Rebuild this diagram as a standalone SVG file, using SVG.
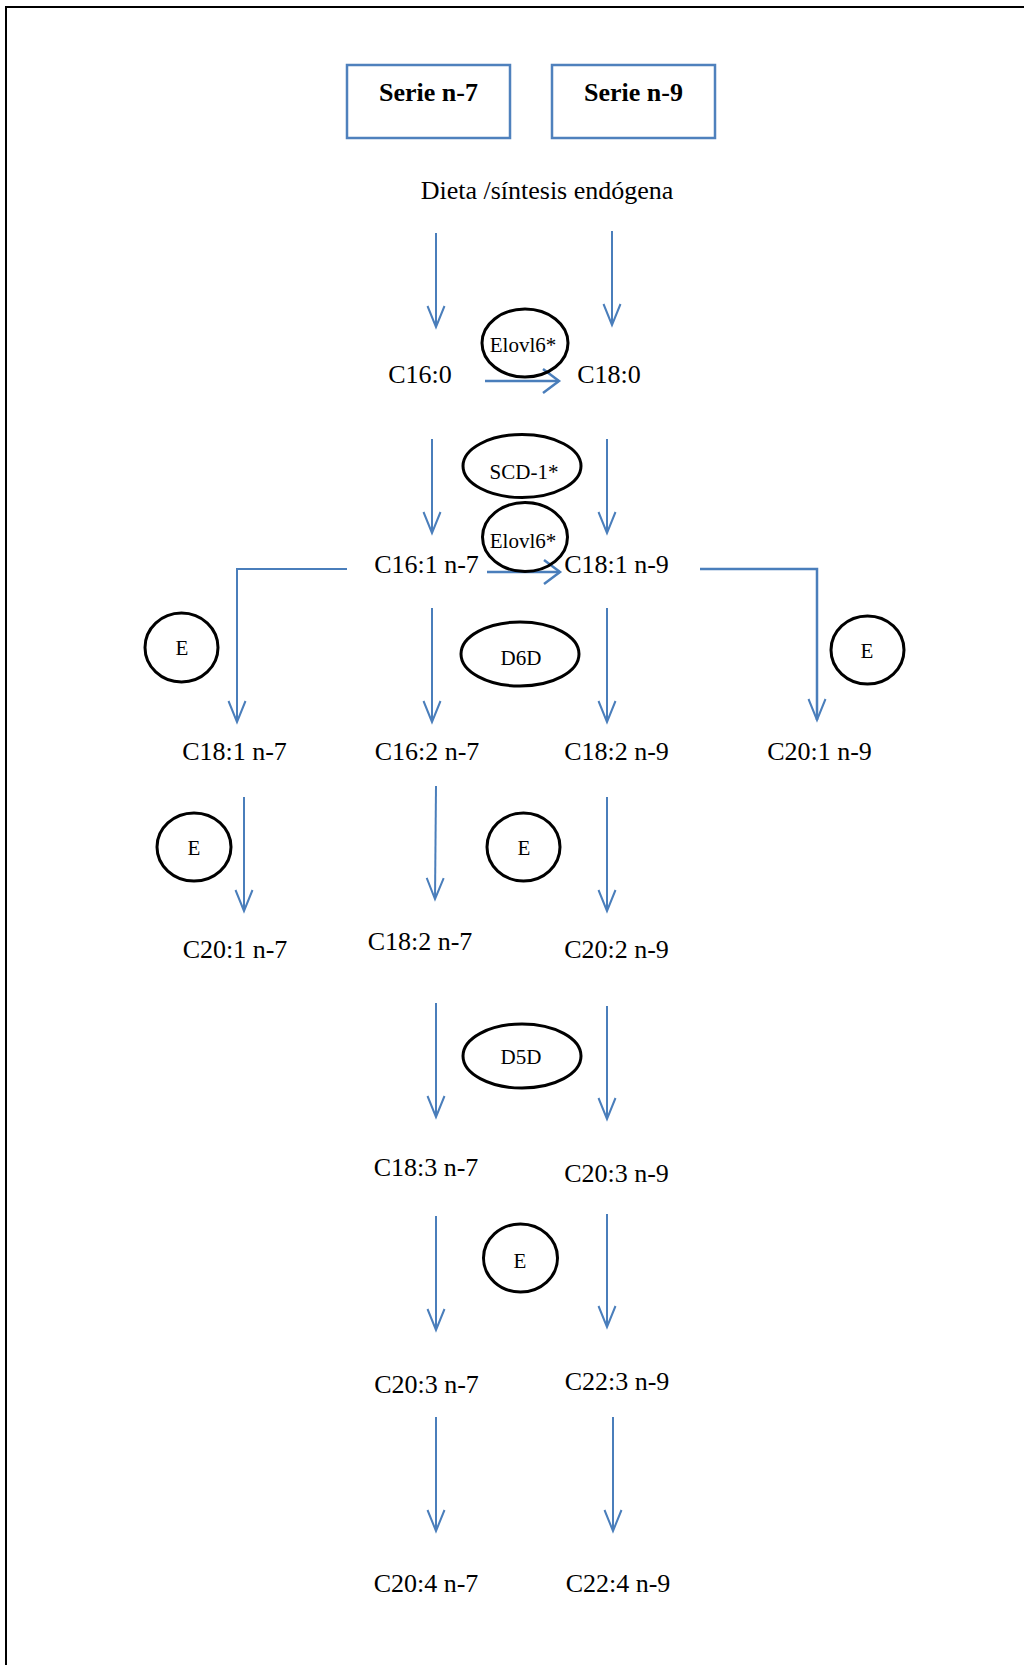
<svg xmlns="http://www.w3.org/2000/svg" width="1024" height="1665" viewBox="0 0 1024 1665">
<style>
.lbl{font-family:"Liberation Serif","Times New Roman",serif;font-size:26px;fill:#000;text-anchor:middle}
.hdr{font-family:"Liberation Serif","Times New Roman",serif;font-size:26px;font-weight:bold;fill:#000;text-anchor:middle}
.enz{font-family:"Liberation Serif","Times New Roman",serif;font-size:21px;fill:#000;text-anchor:middle}
.box{fill:#fff;stroke:#4F81BD;stroke-width:2.5}
.ell{fill:none;stroke:#000;stroke-width:3}
.con{fill:none;stroke:#4A7EBB;stroke-width:2;marker-end:url(#arr)}
.conh{fill:none;stroke:#4A7EBB;stroke-width:2.5;marker-end:url(#arrh)}
</style>
<defs>
<marker id="arr" viewBox="-24 -12 28 24" refX="0" refY="0" markerWidth="28" markerHeight="24" markerUnits="userSpaceOnUse" orient="auto">
<path d="M-21,-8.5 L0,0 L-21,8.5" fill="none" stroke="#4A7EBB" stroke-width="2"/>
</marker>
<marker id="arrh" viewBox="-24 -14 28 28" refX="0" refY="0" markerWidth="28" markerHeight="28" markerUnits="userSpaceOnUse" orient="auto">
<path d="M-16,-12 L0,0 L-16,12" fill="none" stroke="#4A7EBB" stroke-width="2.5"/>
</marker>
</defs>
<rect x="0" y="0" width="1024" height="1665" fill="#fff"/>
<g id="frame">
<path d="M6,1665 L6,7 L1024,7" fill="none" stroke="#000" stroke-width="2"/>
</g>
<g id="connectors">
<line class="con" x1="436" y1="233" x2="436" y2="327"/>
<line class="con" x1="612" y1="231" x2="612" y2="325"/>
<line class="conh" x1="485" y1="381" x2="559" y2="381"/>
<line class="con" x1="432" y1="439" x2="432" y2="533"/>
<line class="con" x1="607" y1="439" x2="607" y2="533"/>
<line class="conh" x1="487" y1="572" x2="560" y2="572"/>
<polyline class="con" points="347,569 237,569 237,722"/>
<polyline class="con" points="700,569 817,569 817,720" style="stroke-width:2.5"/>
<line class="con" x1="432" y1="608" x2="432" y2="722"/>
<line class="con" x1="607" y1="608" x2="607" y2="722"/>
<line class="con" x1="244" y1="797" x2="244" y2="911"/>
<line class="con" x1="436" y1="786" x2="435" y2="899"/>
<line class="con" x1="607" y1="797" x2="607" y2="911"/>
<line class="con" x1="436" y1="1003" x2="436" y2="1117"/>
<line class="con" x1="607" y1="1006" x2="607" y2="1119"/>
<line class="con" x1="436" y1="1216" x2="436" y2="1330"/>
<line class="con" x1="607" y1="1214" x2="607" y2="1327"/>
<line class="con" x1="436" y1="1417" x2="436" y2="1531"/>
<line class="con" x1="613" y1="1417" x2="613" y2="1531"/>
</g>
<g id="serie-n7"><rect class="box" x="347" y="65" width="163" height="73"/><text class="hdr" x="428.5" y="101">Serie n-7</text></g>
<g id="serie-n9"><rect class="box" x="552" y="65" width="163" height="73"/><text class="hdr" x="633.5" y="101">Serie n-9</text></g>
<g id="dieta"><text class="lbl" x="547" y="199">Dieta /síntesis endógena</text></g>
<g id="c16-0"><text class="lbl" x="420" y="383">C16:0</text></g>
<g id="c18-0"><text class="lbl" x="609" y="383">C18:0</text></g>
<g id="elovl6-1"><ellipse class="ell" cx="525" cy="343" rx="43" ry="34"/><text class="enz" x="523" y="352">Elovl6*</text></g>
<g id="scd1"><ellipse class="ell" cx="522" cy="466" rx="59" ry="31.5"/><text class="enz" x="524" y="479">SCD-1*</text></g>
<g id="elovl6-2"><ellipse class="ell" cx="525" cy="537" rx="42.5" ry="34.5"/><text class="enz" x="523" y="548">Elovl6*</text></g>
<g id="c16-1n7"><text class="lbl" x="426.5" y="573">C16:1 n-7</text></g>
<g id="c18-1n9"><text class="lbl" x="616.5" y="573">C18:1 n-9</text></g>
<g id="e-1"><ellipse class="ell" cx="181.5" cy="647.5" rx="36.5" ry="34.5"/><text class="enz" x="182" y="655">E</text></g>
<g id="d6d"><ellipse class="ell" cx="520" cy="654" rx="59" ry="32"/><text class="enz" x="521" y="665">D6D</text></g>
<g id="e-2"><ellipse class="ell" cx="867.5" cy="650" rx="36.5" ry="34"/><text class="enz" x="867" y="658">E</text></g>
<g id="c18-1n7"><text class="lbl" x="234.5" y="760">C18:1 n-7</text></g>
<g id="c16-2n7"><text class="lbl" x="427" y="760">C16:2 n-7</text></g>
<g id="c18-2n9"><text class="lbl" x="616.5" y="760">C18:2 n-9</text></g>
<g id="c20-1n9"><text class="lbl" x="819.5" y="760">C20:1 n-9</text></g>
<g id="e-3"><ellipse class="ell" cx="194" cy="847" rx="37" ry="34"/><text class="enz" x="194" y="855">E</text></g>
<g id="e-4"><ellipse class="ell" cx="523.5" cy="847" rx="36.5" ry="34"/><text class="enz" x="524" y="855">E</text></g>
<g id="c20-1n7"><text class="lbl" x="235" y="958">C20:1 n-7</text></g>
<g id="c18-2n7"><text class="lbl" x="420" y="950">C18:2 n-7</text></g>
<g id="c20-2n9"><text class="lbl" x="616.5" y="958">C20:2 n-9</text></g>
<g id="d5d"><ellipse class="ell" cx="522" cy="1056" rx="59" ry="32"/><text class="enz" x="521" y="1064">D5D</text></g>
<g id="c18-3n7"><text class="lbl" x="426" y="1176">C18:3 n-7</text></g>
<g id="c20-3n9"><text class="lbl" x="616.5" y="1182">C20:3 n-9</text></g>
<g id="e-5"><ellipse class="ell" cx="520.5" cy="1258" rx="37" ry="34"/><text class="enz" x="520" y="1268">E</text></g>
<g id="c20-3n7"><text class="lbl" x="426.5" y="1393">C20:3 n-7</text></g>
<g id="c22-3n9"><text class="lbl" x="617" y="1390">C22:3 n-9</text></g>
<g id="c20-4n7"><text class="lbl" x="426" y="1592">C20:4 n-7</text></g>
<g id="c22-4n9"><text class="lbl" x="618" y="1592">C22:4 n-9</text></g>
</svg>
